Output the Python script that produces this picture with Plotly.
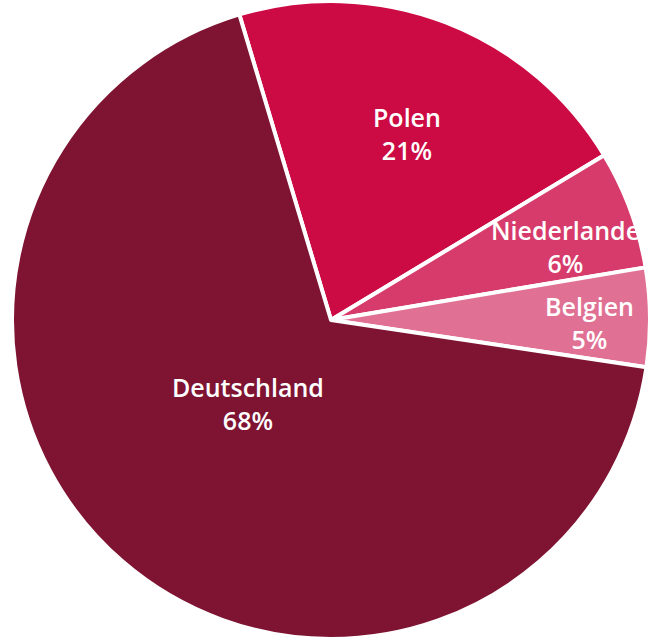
import math
import plotly.graph_objects as go

labels = ["Polen", "Niederlande", "Belgien", "Deutschland"]
values = [21, 6, 5, 68]
pct_text = ["21%", "6%", "5%", "68%"]
colors = ["#CC0A44", "#D73B6B", "#E07194", "#7E1432"]
label_r = [0.63, 0.77, 0.81, 0.37]
label_shift = [1, 3, 1, 4]  # degrees of angular nudge

W, H = 650, 640
rotation = -16.7
dom_x = [12 / W, 1.0]
dom_y = [0.0, 1.0]

fig = go.Figure(go.Pie(
    labels=labels,
    values=values,
    sort=False,
    direction="clockwise",
    rotation=rotation,
    marker=dict(colors=colors, line=dict(color="white", width=4)),
    textinfo="none",
    hoverinfo="label+percent",
    domain=dict(x=dom_x, y=dom_y),
    showlegend=False,
))

# label positions derived from the slice angles
cx = (dom_x[0] + dom_x[1]) / 2 * W
cy = (1 - (dom_y[0] + dom_y[1]) / 2) * H
R = min((dom_x[1] - dom_x[0]) * W, (dom_y[1] - dom_y[0]) * H) / 2
total = sum(values)
start = rotation
for lab, v, t, rf, sh in zip(labels, values, pct_text, label_r, label_shift):
    span = v / total * 360
    mid = math.radians(start + span / 2 + sh)
    start += span
    px = cx + rf * R * math.sin(mid)
    py = cy - rf * R * math.cos(mid)
    fig.add_annotation(
        x=px / W, y=1 - py / H, xref="paper", yref="paper",
        text=f"{lab}<br>{t}", showarrow=False,
        font=dict(family="Open Sans", size=25, color="white", weight=600),
        align="center", xanchor="center", yanchor="middle",
    )

fig.update_layout(
    width=W, height=H,
    margin=dict(l=0, r=0, t=0, b=0),
    paper_bgcolor="white",
    plot_bgcolor="white",
)

fig.write_html("out.html")
